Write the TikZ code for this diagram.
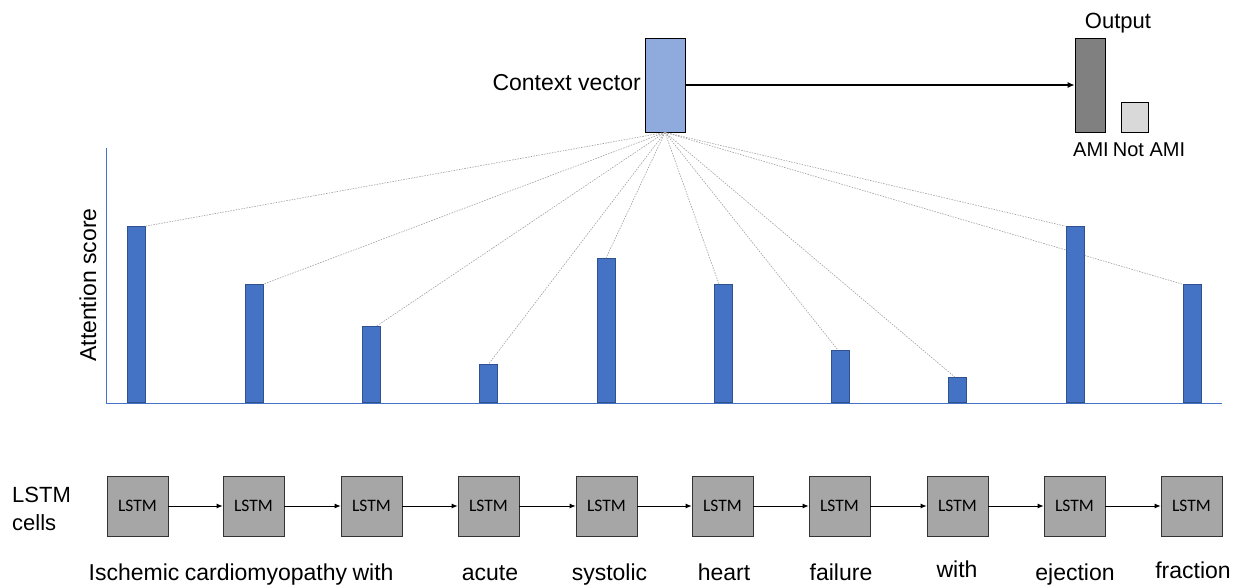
\documentclass[tikz,border=0pt]{standalone}
\usepackage{fontspec}
\setmainfont{Liberation Sans}
\newfontfamily\cellfont{Carlito}
\usetikzlibrary{arrows.meta}
\definecolor{barblue}{HTML}{4472C4}
\definecolor{baredge}{HTML}{2F528F}
\definecolor{ctxblue}{HTML}{8FAADC}
\definecolor{lstmgray}{HTML}{A6A6A6}
\definecolor{amigray}{HTML}{808080}
\definecolor{notamigray}{HTML}{D9D9D9}
\tikzset{
  bar/.style={draw=baredge, line width=0.8pt, fill=barblue, minimum width=18pt, inner sep=0pt, anchor=south},
  lstmbox/.style={draw=black!80, line width=0.8pt, fill=lstmgray, minimum width=61pt, minimum height=60pt, inner sep=0pt, font=\cellfont\fontsize{17.5}{19}\selectfont},
  link/.style={draw=gray!75, line width=0.6pt, dash pattern=on 1.5pt off 1.2pt},
  chain/.style={draw=black, line width=0.8pt, -{Latex[length=6pt,width=5pt]}},
  word/.style={anchor=base, inner sep=0pt, font=\fontsize{23}{27}\selectfont},
  label/.style={inner sep=0pt, font=\fontsize{23}{27}\selectfont},
  small label/.style={inner sep=0pt, font=\fontsize{20}{24}\selectfont},
}
\begin{document}
\begin{tikzpicture}[x=1pt,y=-1pt]
\useasboundingbox (0,0) rectangle (1241,588);

% context vector and output
\node[draw=black, line width=0.8pt, fill=ctxblue, minimum width=40pt, minimum height=94pt, inner sep=0pt] (ctx) at (665,85) {};
\node[label, anchor=base east] (ctxlab) at (641,91) {Context vector};
\node[draw=black, line width=0.8pt, fill=amigray, minimum width=30pt, minimum height=94pt, inner sep=0pt] (ami) at (1090,85) {};
\node[draw=black, line width=0.8pt, fill=notamigray, minimum width=27pt, minimum height=30pt, inner sep=0pt] (notami) at (1134.5,117) {};
\node[font=\fontsize{22}{26}\selectfont, inner sep=0pt, anchor=base] (outlab) at (1118,29) {Output};
\node[small label, anchor=base] (amilab) at (1091,157) {AMI};
\node[small label, anchor=base] (notamilab) at (1149,157) {Not AMI};
\draw[line width=1.2pt, -{Latex[length=7pt,width=6pt]}] (ctx.east) -- (ami.west);

% axes of the attention chart
\coordinate (ytop) at (106,148);
\coordinate (origin) at (106,403);
\coordinate (xend) at (1222,403);
\draw[barblue, line width=0.9pt] (ytop) -- (origin) -- (xend);
\node[label, rotate=90] (ylab) at (88,285) {Attention score};

% attention bars
\node[bar, minimum height=176pt] (b1) at (136,403) {};
\node[bar, minimum height=118pt] (b2) at (254,403) {};
\node[bar, minimum height=76pt]  (b3) at (371,403) {};
\node[bar, minimum height=38pt]  (b4) at (488.5,403) {};
\node[bar, minimum height=144pt] (b5) at (606,403) {};
\node[bar, minimum height=118pt] (b6) at (723,403) {};
\node[bar, minimum height=52pt]  (b7) at (840,403) {};
\node[bar, minimum height=25pt]  (b8) at (957,403) {};
\node[bar, minimum height=176pt] (b9) at (1075,403) {};
\node[bar, minimum height=118pt] (b10) at (1192,403) {};

% attention links from the context vector to each bar
\draw[link] (ctx.south) -- (b1.north east);
\draw[link] (ctx.south) -- (b2.north east);
\draw[link] (ctx.south) -- ([xshift=-4pt]b3.north east);
\draw[link] (ctx.south) -- (b4.north);
\draw[link] (ctx.south) -- (b5.north);
\draw[link] (ctx.south) -- ([xshift=-4pt]b6.north);
\draw[link] (ctx.south) -- ([xshift=-2pt]b7.north);
\draw[link] (ctx.south) -- ([xshift=-2pt]b8.north);
\draw[link] (ctx.south) -- (b9.north west);
\draw[link] (ctx.south) -- (b10.north west);
% the ejection bar sits over the link that crosses it
\node[bar, minimum height=176pt] (b9top) at (1075,403) {};

% LSTM chain
\node[lstmbox] (l1) at (137.5,506) {LSTM};
\node[lstmbox] (l2) at (253.5,506) {LSTM};
\node[lstmbox] (l3) at (371.5,506) {LSTM};
\node[lstmbox] (l4) at (488.5,506) {LSTM};
\node[lstmbox] (l5) at (606.5,506) {LSTM};
\node[lstmbox] (l6) at (722.5,506) {LSTM};
\node[lstmbox] (l7) at (839.5,506) {LSTM};
\node[lstmbox] (l8) at (957.5,506) {LSTM};
\node[lstmbox] (l9) at (1074.5,506) {LSTM};
\node[lstmbox] (l10) at (1191.5,506) {LSTM};
\draw[chain] (l1) -- (l2);
\draw[chain] (l2) -- (l3);
\draw[chain] (l3) -- (l4);
\draw[chain] (l4) -- (l5);
\draw[chain] (l5) -- (l6);
\draw[chain] (l6) -- (l7);
\draw[chain] (l7) -- (l8);
\draw[chain] (l8) -- (l9);
\draw[chain] (l9) -- (l10);

\node[font=\fontsize{22}{26}\selectfont, inner sep=0pt, anchor=base west] (cells1) at (12,502) {LSTM};
\node[font=\fontsize{22}{26}\selectfont, inner sep=0pt, anchor=base west] (cells2) at (12,530) {cells};

% input words
\node[word] (w1) at (134,580) {Ischemic};
\node[word] (w2) at (266,580) {cardiomyopathy};
\node[word] (w3) at (373,580) {with};
\node[word] (w4) at (490,580) {acute};
\node[word] (w5) at (609.5,580) {systolic};
\node[word] (w6) at (724,580) {heart};
\node[word] (w7) at (841,580) {failure};
\node[word] (w8) at (957,577) {with};
\node[word] (w9) at (1075,580) {ejection};
\node[word] (w10) at (1193,578) {fraction};
\end{tikzpicture}
\end{document}
